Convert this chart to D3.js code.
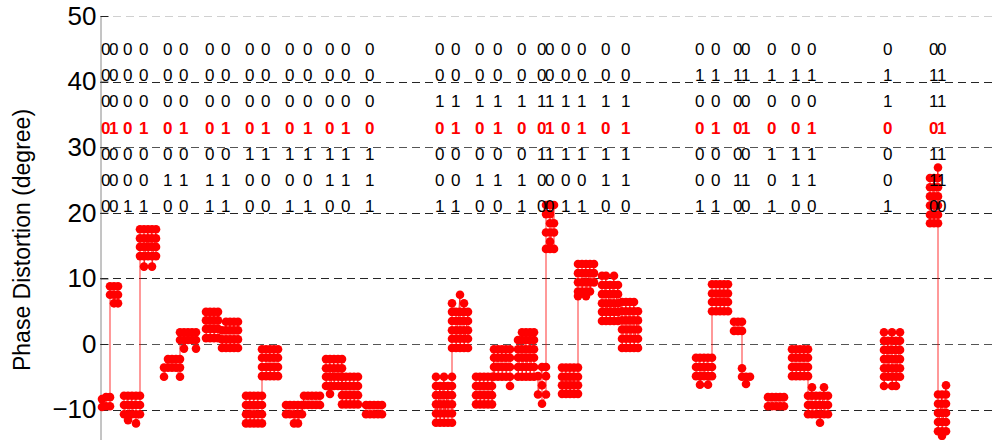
<!DOCTYPE html>
<html>
<head>
<meta charset="utf-8">
<script src="https://cdn.jsdelivr.net/npm/d3@7"></script>
<style>
  body { margin: 0; background: #fff; }
  text { font-family: "Liberation Sans", Arial, Helvetica, sans-serif; }
</style>
</head>
<body>
<svg id="chart" width="994" height="440"></svg>
<script>
// y axis ticks (degree)
const yTicks = [-10, 0, 10, 20, 30, 40, 50];

// first sample index of every received symbol (samples are 2 index steps apart)
const clusterStart = [1, 5, 12, 20, 32, 40, 53, 61, 73, 81, 93, 102, 113, 121, 133,
                      168, 176, 188, 197, 209, 219, 223, 231, 239, 251, 261,
                      298, 306, 317, 321, 334, 346, 354,
                      392, 415, 419];
const sampleStep = 2;

// measured phase distortion, one array per sample of each symbol
const clusterPhase = [
  [[-8.4, -9.6], [-8.1, -9.5], [-9.5, -8.1]],
  [[8.8, 7.5], [8.8, 7.5, 6.2], [8.8, 7.5, 6.2]],
  [[-7.9, -9.3, -10.7], [-7.9, -9.3, -10.7, -11.6], [-7.9, -9.3, -10.7], [-7.9, -9.3, -10.7, -12.1], [-10.7, -9.3, -7.9]],
  [[13.4, 14.8, 16.1, 17.5], [17.5, 16.1, 14.8, 13.4, 11.8], [17.5, 16.1, 14.8, 13.4], [17.5, 16.1, 14.8, 13.4, 11.8], [17.5, 16.1, 14.8, 13.4]],
  [[-3.6, -5.0], [-2.3, -3.6], [-2.3, -3.6], [-2.3, -3.6], [-5.0, -3.6, -2.3]],
  [[0.6, 1.8], [1.8, 0.6, -0.7], [1.8, 0.6], [1.8, 0.6], [1.8, 0.6, -0.7]],
  [[4.9, 3.6, 2.3, 0.9], [4.9, 3.6, 2.3, 0.9], [4.9, 3.6, 2.3, 0.9], [4.9, 3.6, 2.3, 0.9]],
  [[2.1, 0.7, -0.6], [3.4, 2.1, 0.7, -0.6], [3.4, 2.1, 0.7, -0.6], [3.4, 2.1, 0.7, -0.6], [3.4, 2.1, 0.7, -0.6]],
  [[-7.9, -9.3, -10.7, -12.1], [-7.9, -9.3, -10.7, -12.1], [-7.9, -9.3, -10.7, -12.1], [-7.9, -9.3, -10.7, -12.1], [-12.1, -10.7, -9.3, -7.9]],
  [[-4.9, -3.5, -2.1, -0.8], [-0.8, -2.1, -3.5, -4.9], [-0.8, -2.1, -3.5, -4.9], [-0.8, -2.1, -3.5, -4.9], [-0.8, -2.1, -3.5, -4.9]],
  [[-9.3, -10.7], [-9.3, -10.7], [-9.3, -10.7, -12.1], [-9.3, -10.7, -12.1], [-9.3, -10.7]],
  [[-7.9, -9.3], [-7.9, -9.3], [-7.9, -9.3], [-7.9, -9.3], [-7.9, -9.3]],
  [[-2.3, -3.7, -5.0, -6.4], [-2.3, -3.7, -5.0, -6.4, -7.6], [-2.3, -3.7, -5.0, -6.4], [-2.3, -3.7, -5.0, -6.4], [-2.3, -3.7, -5.0, -6.4]],
  [[-5.0, -6.4, -7.8, -9.2], [-5.0, -6.4, -7.8, -9.2], [-5.0, -6.4, -7.8, -9.2], [-5.0, -6.4, -7.8, -9.2], [-5.0, -6.4, -7.8, -9.2]],
  [[-9.3, -10.7], [-9.3, -10.7], [-9.3, -10.7], [-9.3, -10.7], [-9.3, -10.7]],

  [[-5.0, -6.4, -7.8, -9.2, -10.6, -12.0], [-6.4, -7.8, -9.2, -10.6, -12.0], [-5.0, -6.4, -7.8, -9.2, -10.6, -12.0], [-6.4, -7.8, -9.2, -10.6, -12.0], [-12.0, -10.6, -9.2, -7.8, -6.4, -5.0]],
  [[-0.6, 0.8, 2.1, 3.5, 4.9, 6.2], [4.9, 3.5, 2.1, 0.8, -0.6], [7.5, 4.9, 3.5, 2.1, 0.8, -0.6], [6.2, 4.9, 3.5, 2.1, 0.8, -0.6], [4.9, 3.5, 2.1, 0.8, -0.6]],
  [[-5.0, -6.4, -7.8, -9.2], [-5.0, -6.4, -7.8, -9.2], [-5.0, -6.4, -7.8, -9.2], [-5.0, -6.4, -7.8, -9.2], [-5.0, -6.4, -7.8, -9.2]],
  [[-0.8, -2.1, -3.5, -5.0], [-0.8, -2.1, -3.5, -5.0], [-0.8, -2.1, -3.5, -5.0], [-0.8, -2.1, -3.5, -5.0], [-0.8, -2.1, -3.5, -5.0, -6.4]],
  [[0.6, -0.8, -2.1, -3.5, -5.0], [1.8, 0.6, -0.8, -2.1, -3.5, -5.0], [1.8, 0.6, -0.8, -2.1, -3.5, -5.0], [1.8, 0.6, -0.8, -2.1, -3.5, -5.0], [1.8, 0.6, -0.8, -2.1, -3.5, -5.0]],
  [[-4.9, -7.7], [-3.5, -6.3, -9.1], [-7.7, -4.9, -3.5]],
  [[14.5, 17.0, 19.8, 21.2], [21.2, 19.8, 18.4, 17.0, 15.6, 14.5], [21.2, 18.4, 17.0, 14.5]],
  [[-3.6, -5.0, -6.3, -7.6], [-3.6, -5.0, -6.3, -7.6], [-3.6, -5.0, -6.3, -7.6], [-3.6, -5.0, -6.3, -7.6], [-7.6, -6.3, -5.0, -3.6]],
  [[7.3, 8.0, 9.4, 10.8, 12.2], [12.2, 10.8, 9.4, 8.0], [12.2, 10.8, 9.4, 8.0, 7.3], [12.2, 10.8, 9.4, 8.0], [12.2, 10.8, 9.4]],
  [[10.4, 9.0, 7.6, 6.2, 4.9, 3.5], [10.4, 9.0, 7.6, 6.2, 4.9, 3.5], [9.0, 7.6, 6.2, 4.9, 3.5], [10.4, 9.0, 7.6, 6.2, 4.9, 3.5], [9.0, 7.6, 6.2, 4.9, 3.5]],
  [[6.4, 5.0, 3.6, 2.2, 0.8, -0.6], [6.4, 5.0, 3.6, 2.2, 0.8, -0.6], [6.4, 5.0, 3.6, 2.2, 0.8, -0.6], [6.4, 5.0, 3.6, 2.2, 0.8, -0.6], [5.0, 3.6, 2.2, 0.8, -0.6]],

  [[-2.1, -3.5, -4.9], [-2.1, -3.5, -4.9, -6.2], [-2.1, -3.5, -4.9], [-2.1, -3.5, -4.9, -6.2], [-4.9, -3.5, -2.1]],
  [[5.0, 6.4, 7.7, 9.1], [9.1, 7.7, 6.4, 5.0], [9.1, 7.7, 6.4, 5.0], [9.1, 7.7, 6.4, 5.0], [9.1, 7.7, 6.4, 5.0]],
  [[3.4, 2.0], [3.4, 2.0], [3.4, 2.0]],
  [[-3.7, -5.0], [-5.0, -6.1], [-5.0]],
  [[-8.1, -9.5], [-8.1, -9.5], [-8.1, -9.5], [-8.1, -9.5], [-8.1, -9.5]],
  [[-0.8, -2.1, -3.5, -4.9], [-0.8, -2.1, -3.5, -4.9], [-0.8, -2.1, -3.5, -4.9], [-0.8, -2.1, -3.5, -4.9], [-0.8, -2.1, -3.5, -4.9]],
  [[-7.9, -9.3, -10.7], [-6.6, -7.9, -9.3, -10.7], [-7.9, -9.3, -10.7], [-7.9, -9.3, -10.7, -12.0], [-6.6, -7.9, -9.3, -10.7], [-7.9, -9.3, -10.7]],

  [[1.8, 0.5, -0.9, -2.3, -3.7, -5.0, -6.4], [0.5, -0.9, -2.3, -3.7, -5.0], [1.8, 0.5, -0.9, -2.3, -3.7, -5.0, -6.4], [0.5, -0.9, -2.3, -3.7, -5.0, -6.4], [1.8, 0.5, -0.9, -2.3, -3.7, -5.0]],
  [[25.3, 23.9, 22.5, 21.1, 19.7, 18.4], [25.3, 23.9, 22.5, 21.1, 19.7, 18.4], [26.9, 25.3, 23.9, 22.5, 21.1, 19.7, 18.4]],
  [[-7.7, -9.1, -10.5, -11.9, -13.3], [-7.7, -9.1, -10.5, -11.9, -13.3, -14.0], [-6.3, -7.7, -9.1, -10.5, -11.9, -13.3]]
];

// 7-bit word carried by each symbol, one array per bit row (row 4 is the data bit)
const bitRow1 = [0,0,0,0,0,0,0,0,0,0,0,0,0,0,0, 0,0,0,0,0,0,0,0,0,0,0, 0,0,0,0,0,0,0, 0,0,0];
const bitRow2 = [0,0,0,0,0,0,0,0,0,0,0,0,0,0,0, 0,0,0,0,0,0,0,0,0,0,0, 1,1,1,1,1,1,1, 1,1,1];
const bitRow3 = [0,0,0,0,0,0,0,0,0,0,0,0,0,0,0, 1,1,1,1,1,1,1,1,1,1,1, 0,0,0,0,0,0,0, 1,1,1];
const bitRow4 = [0,1,0,1,0,1,0,1,0,1,0,1,0,1,0, 0,1,0,1,0,0,1,0,1,0,1, 0,1,0,1,0,0,1, 0,0,1];
const bitRow5 = [0,0,0,0,0,0,0,0,1,1,1,1,1,1,1, 0,0,0,0,0,1,1,1,1,1,1, 0,0,0,0,1,1,1, 0,1,1];
const bitRow6 = [0,0,0,0,1,1,1,1,0,0,0,0,1,1,1, 0,0,1,1,1,0,0,0,0,1,1, 0,0,1,1,0,1,1, 0,1,1];
const bitRow7 = [0,0,1,1,0,0,1,1,0,0,1,1,0,0,1, 1,1,0,0,1,0,0,1,1,0,0, 1,1,0,0,1,0,0, 1,0,0];
const bitRows = [bitRow1, bitRow2, bitRow3, bitRow4, bitRow5, bitRow6, bitRow7];
// vertical position (degree) of each bit row
const bitRowLevel = [45, 41, 37, 33, 29, 25, 21];

const svg = d3.select("#chart");
const x = d3.scaleLinear().domain([0, 450]).range([100, 1000]);
const y = d3.scaleLinear().domain([-15, 50]).range([442.4, 16]);

// dashed grid
svg.append("g")
  .selectAll("line")
  .data(yTicks)
  .join("line")
  .attr("x1", 100).attr("x2", 994)
  .attr("y1", d => Math.round(y(d)) + 0.5)
  .attr("y2", d => Math.round(y(d)) + 0.5)
  .attr("stroke", d => d === 50 ? "#d0d0d0" : (d === 30 || d === 0 ? "#555" : "#262626"))
  .attr("stroke-width", 1)
  .attr("stroke-dasharray", "8,5");

// left axis with inward ticks
const axis = svg.append("g")
  .attr("transform", "translate(100.5,0)")
  .call(d3.axisLeft(y).tickValues(yTicks).tickSize(-8).tickSizeOuter(0).tickPadding(4));
axis.select(".domain").attr("stroke", "#8a8a8a");
axis.selectAll(".tick line").attr("stroke", "#222");
axis.selectAll(".tick text")
  .attr("fill", "#000")
  .style("font-size", "26px")
  .style("font-family", "\"Liberation Sans\", Arial, sans-serif");

svg.append("text")
  .attr("transform", "translate(30,240) rotate(-90)")
  .attr("text-anchor", "middle")
  .style("font-size", "23px")
  .attr("fill", "#000")
  .text("Phase Distortion (degree)");

// flatten the samples of each symbol, column by column
const symbols = clusterStart.map((s, i) => {
  const pts = [];
  clusterPhase[i].forEach((col, k) => col.forEach(v => pts.push([s + k * sampleStep, v])));
  const key = bitRows.filter((r, j) => j !== 3).map(r => r[i]).join("");
  return { start: s, pts, key };
});

// symbols that share the same non-data bits form one trace
const traces = [];
symbols.forEach(sym => {
  const last = traces[traces.length - 1];
  if (last && last.key === sym.key) last.pts = last.pts.concat(sym.pts);
  else traces.push({ key: sym.key, pts: sym.pts.slice() });
});

const line = d3.line().x(d => x(d[0])).y(d => y(d[1]));
svg.append("g")
  .selectAll("path")
  .data(traces)
  .join("path")
  .attr("d", d => line(d.pts))
  .attr("fill", "none")
  .attr("stroke", "#ff0000")
  .attr("stroke-opacity", 0.8)
  .attr("stroke-width", 1);

svg.append("g")
  .selectAll("circle")
  .data(symbols.flatMap(s => s.pts))
  .join("circle")
  .attr("cx", d => x(d[0]))
  .attr("cy", d => y(d[1]))
  .attr("r", 4.3)
  .attr("fill", "#ff0000");

// bit labels above the traces
const labels = svg.append("g");
bitRows.forEach((row, j) => {
  labels.selectAll(null)
    .data(row.map((b, i) => ({ b, i })))
    .join("text")
    .attr("x", d => x(clusterStart[d.i]) - 1)
    .attr("y", y(bitRowLevel[j]))
    .attr("dy", "0.36em")
    .style("font-size", "17px")
    .style("font-weight", j === 3 ? "bold" : "normal")
    .attr("fill", j === 3 ? "#ff0000" : "#000")
    .text(d => d.b);
});
</script>
</body>
</html>
